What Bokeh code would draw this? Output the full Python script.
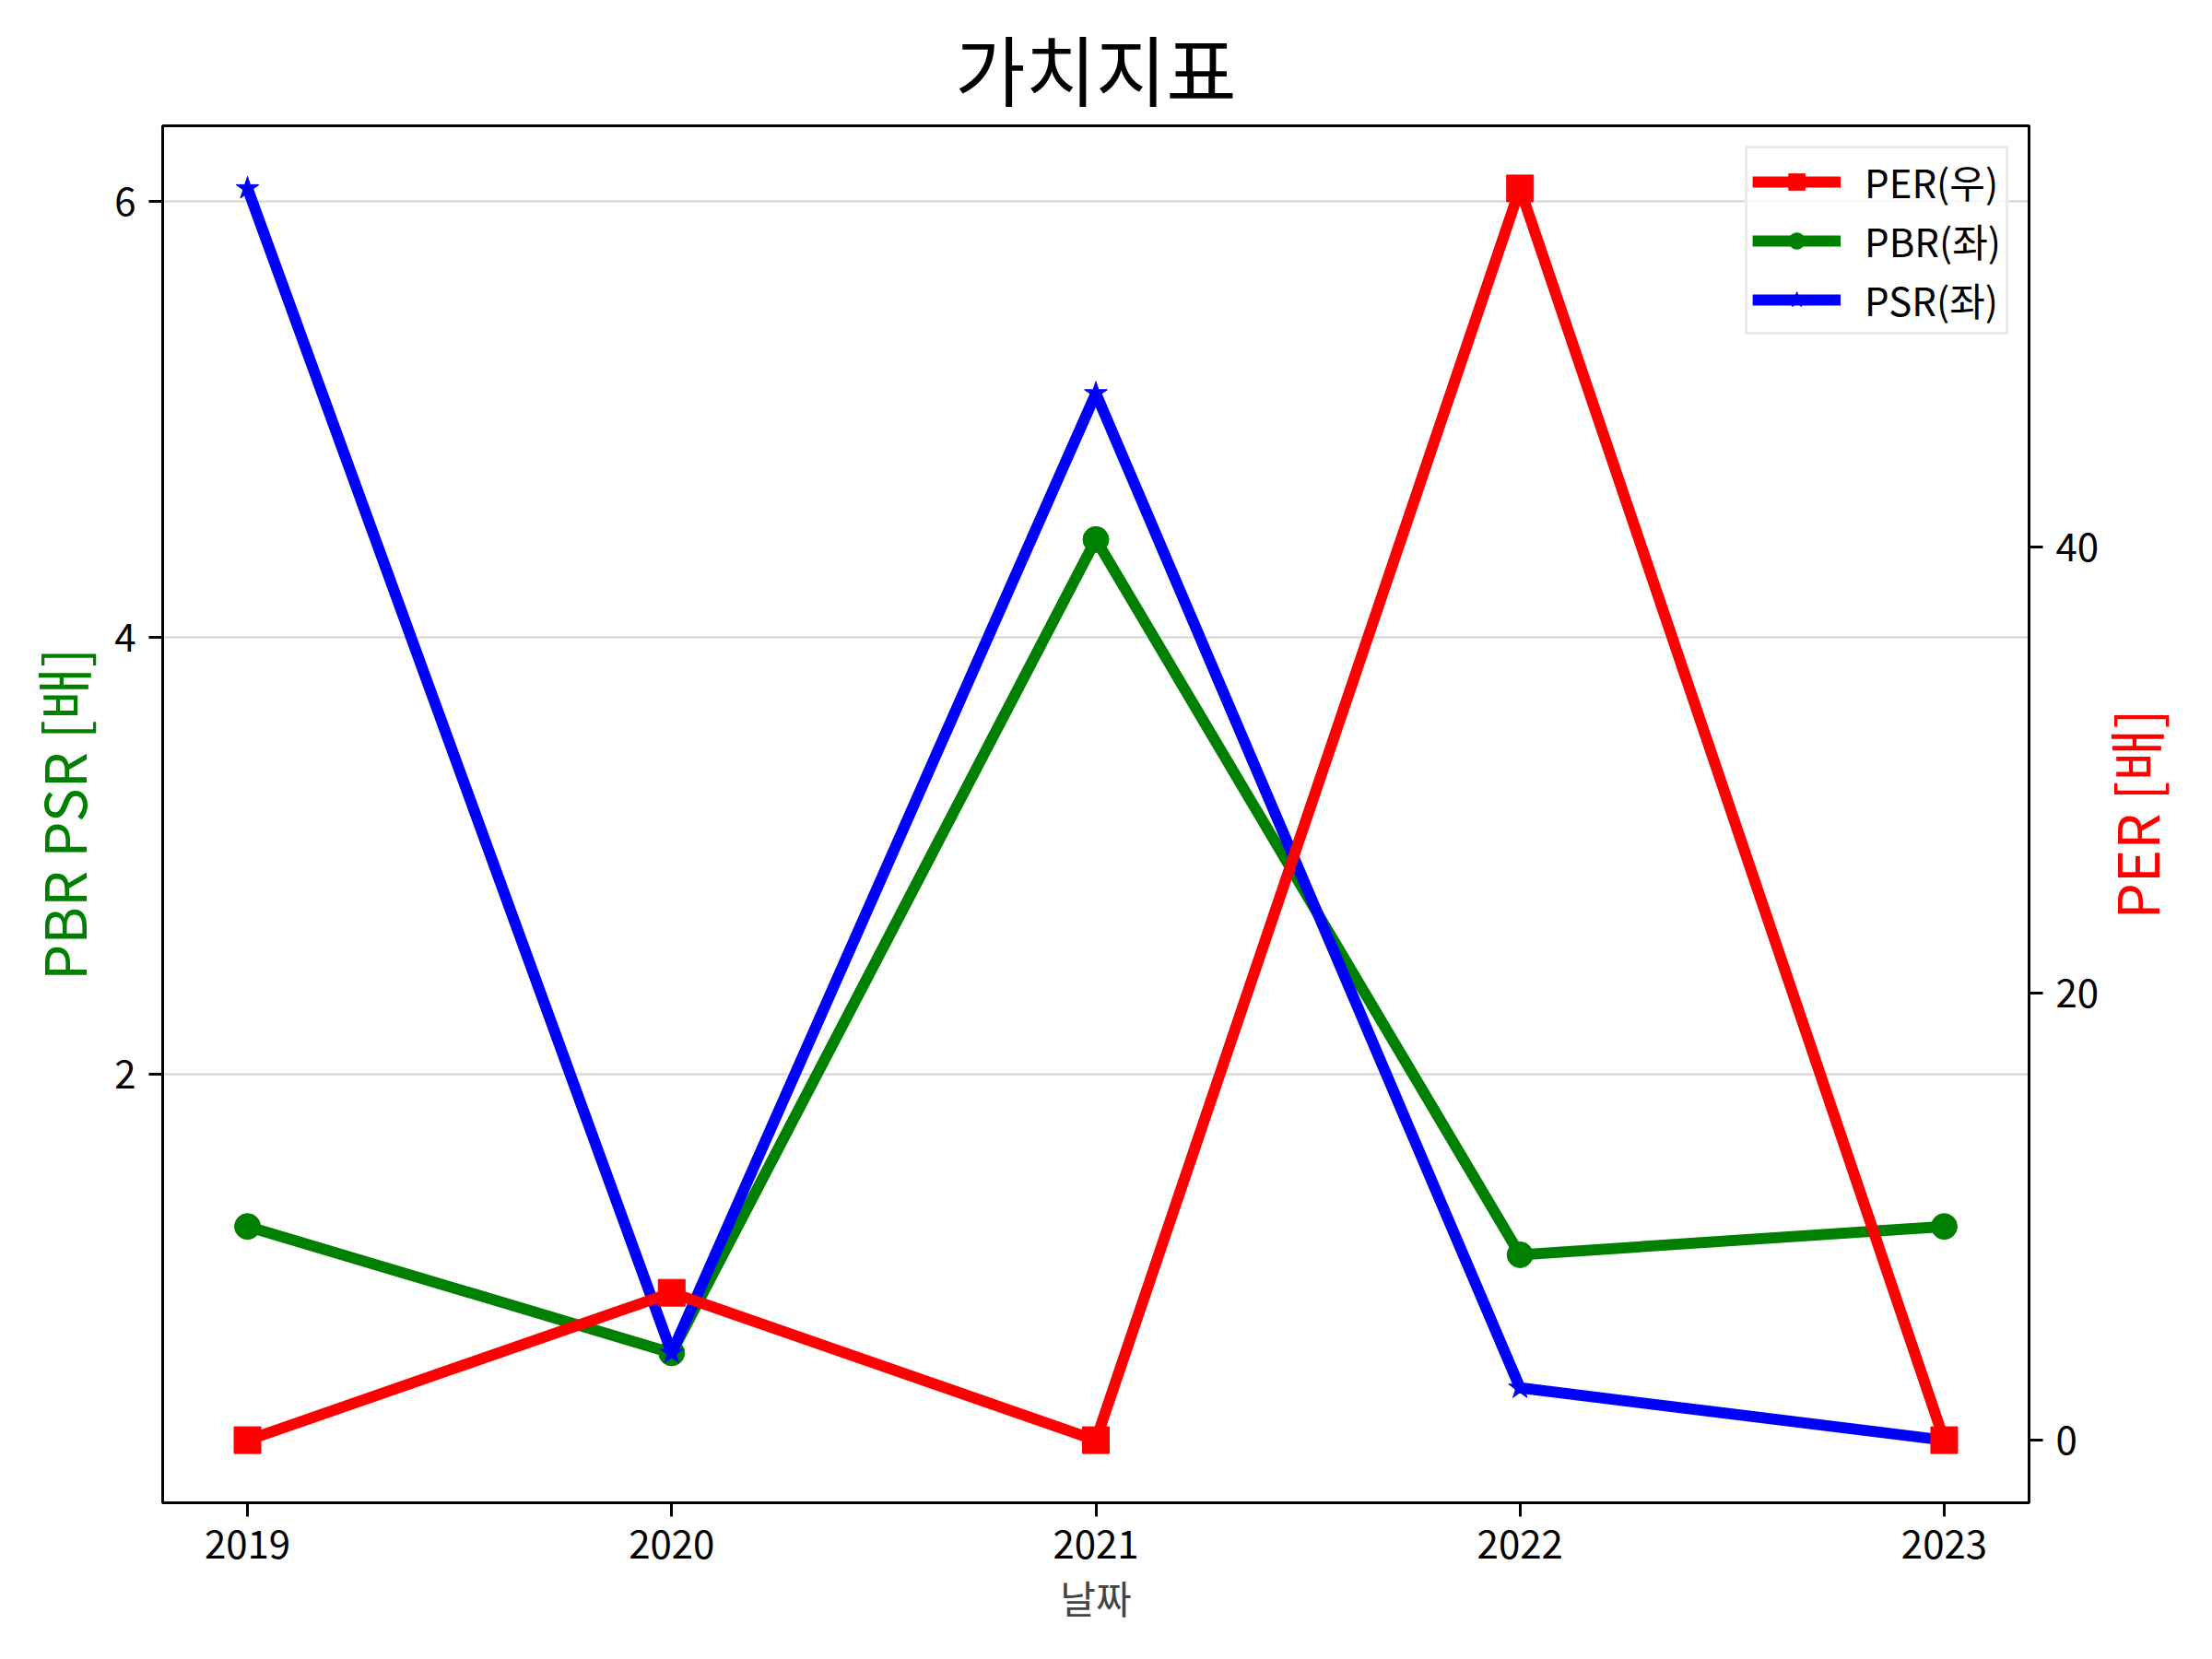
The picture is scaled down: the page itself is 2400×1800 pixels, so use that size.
import math
from bokeh.plotting import figure
from bokeh.models import Range1d, LinearAxis, FixedTicker, Legend, LegendItem, Label
from bokeh.embed import file_html
from bokeh.resources import INLINE

years = [2019, 2020, 2021, 2022, 2023]
per = [0.0, 6.6, 0.0, 56.05, 0.0]
pbr = [1.30, 0.72, 4.45, 1.17, 1.30]
psr = [6.06, 0.72, 5.12, 0.56, 0.32]

x_ticks = [2019, 2020, 2021, 2022, 2023]
left_ticks = [2, 4, 6]
right_ticks = [0, 20, 40]

title_text = "가치지표"
x_label = "날짜"
left_label = "PBR PSR [배]"
right_label = "PER [배]"
labels = ["PER(우)", "PBR(좌)", "PSR(좌)"]

FONT = "Noto Sans CJK KR"


def padded(vals, frac=0.05):
    lo, hi = min(vals), max(vals)
    span = hi - lo
    return lo - frac * span, hi + frac * span


xlo, xhi = padded(years)
llo, lhi = padded(pbr + psr)
rlo, rhi = padded(per)

p = figure(
    frame_width=2025, frame_height=1494,
    min_border_left=176, min_border_right=183,
    min_border_top=136, min_border_bottom=154,
    x_range=Range1d(xlo, xhi), y_range=Range1d(llo, lhi),
    output_backend="svg", toolbar_location=None,
)
p.extra_y_ranges = {"per": Range1d(rlo, rhi)}

p.title.text = title_text
p.title.align = "center"
p.title.text_font = FONT
p.title.text_font_size = "83px"
p.title.text_font_style = "normal"
p.title.text_color = "black"
p.title.standoff = 8

p.outline_line_color = "black"
p.outline_line_width = 3
p.background_fill_color = "white"
p.border_fill_color = "white"

p.xgrid.visible = False
p.ygrid.ticker = FixedTicker(ticks=left_ticks)
p.ygrid.grid_line_color = "#d3d3d3"
p.ygrid.grid_line_width = 2

raxis = LinearAxis(y_range_name="per")
p.add_layout(raxis, "right")

for ax in [p.xaxis[0], p.yaxis[0], raxis]:
    ax.axis_line_width = 3
    ax.axis_line_color = "black"
    ax.major_tick_line_width = 3
    ax.major_tick_out = 15
    ax.major_tick_in = 0
    ax.minor_tick_line_color = None
    ax.major_label_text_font = FONT
    ax.major_label_text_font_size = "42px"
    ax.major_label_text_color = "black"
    ax.major_label_standoff = 14
    ax.axis_label_text_font = FONT
    ax.axis_label_text_font_style = "normal"

p.xaxis[0].ticker = FixedTicker(ticks=x_ticks)
p.xaxis[0].axis_label = x_label
p.xaxis[0].axis_label_text_font_size = "42px"
p.xaxis[0].axis_label_standoff = 8

p.yaxis[0].ticker = FixedTicker(ticks=left_ticks)
p.yaxis[0].axis_label = left_label
p.yaxis[0].axis_label_text_color = "green"
p.yaxis[0].axis_label_text_font_size = "62px"
p.yaxis[0].axis_label_standoff = 9

raxis.ticker = FixedTicker(ticks=right_ticks)

# right axis title, reading bottom-to-top as in the reference
rlabel = Label(
    x=xhi, y=(llo + lhi) / 2, x_units="data", y_units="data",
    x_offset=114, angle=math.pi / 2,
    text=right_label, text_align="center", text_baseline="middle",
    text_font=FONT, text_font_size="62px", text_color="red",
)
p.add_layout(rlabel, "right")

LW = 12
g_line = p.line(years, pbr, line_color="green", line_width=LW)
g_pts = p.scatter(years, pbr, marker="circle", size=28, fill_color="green", line_color="green")
b_line = p.line(years, psr, line_color="blue", line_width=LW)
b_pts = p.scatter(years, psr, marker="star", size=26, fill_color="blue", line_color="blue")
r_line = p.line(years, per, line_color="red", line_width=LW, y_range_name="per")
r_pts = p.scatter(years, per, marker="square", size=29, fill_color="red", line_color="red", y_range_name="per")

legend = Legend(items=[
    LegendItem(label=labels[0], renderers=[r_line, r_pts]),
    LegendItem(label=labels[1], renderers=[g_line, g_pts]),
    LegendItem(label=labels[2], renderers=[b_line, b_pts]),
])
legend.location = "top_right"
legend.margin = 22
legend.padding = 5
legend.spacing = 3
legend.glyph_width = 96
legend.glyph_height = 44
legend.label_height = 44
legend.label_standoff = 26
legend.label_text_font = FONT
legend.label_text_font_size = "42px"
legend.label_text_color = "black"
legend.border_line_color = "#d6d6d6"
legend.border_line_width = 3
legend.background_fill_alpha = 0.85
p.add_layout(legend, "center")

open("out.html", "w").write(file_html(p, INLINE))
